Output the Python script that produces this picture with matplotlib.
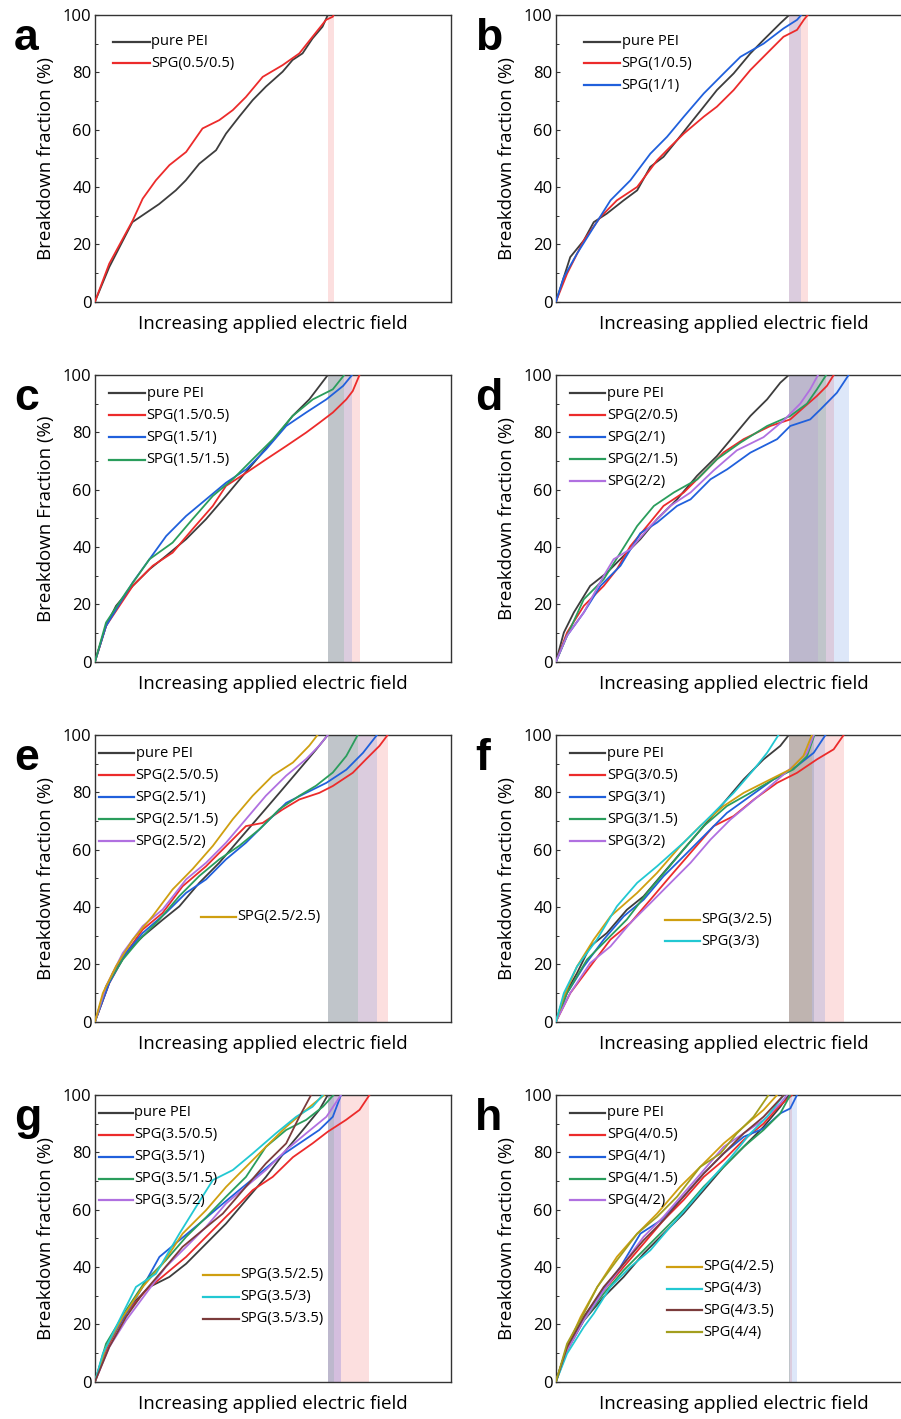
import matplotlib
matplotlib.use("Agg")
import matplotlib.pyplot as plt
from matplotlib.ticker import MultipleLocator

plt.rcParams['font.family'] = ['Open Sans', 'DejaVu Sans']

# ---------------------------------------------------------------- colours
C_PEI = '#3d3d3d'
C_RED = '#ec2b2b'
C_BLUE = '#2060dc'
C_GREEN = '#2a9d5c'
C_PURPLE = '#b070e0'
C_GOLD = '#cf9f10'
C_CYAN = '#22c8d2'
C_BROWN = '#7b3b3b'
C_OLIVE = '#a39e1e'

# ---------------------------------------------------------------- panel a
a_pei_x = [0, 4.0, 10.5, 18.0, 22.7, 25.5, 29.3, 34.0, 36.8, 40.5, 44.3, 48.0, 52.7, 55.5, 58.3, 61.1, 63.9, 65.4]
a_pei_y = [0, 12.0, 27.7, 34.0, 38.8, 42.3, 48.1, 52.8, 58.6, 64.5, 70.3, 75.0, 80.2, 84.3, 86.6, 91.8, 95.9, 100]
a_s05_x = [0, 4.0, 10.6, 13.4, 17.1, 20.9, 25.6, 30.2, 34.9, 38.7, 42.4, 47.1, 52.7, 57.4, 61.1, 64.9, 66.8, 67.0]
a_s05_y = [0, 13.2, 28.3, 35.9, 42.3, 47.6, 52.2, 60.4, 63.3, 66.8, 71.4, 78.4, 82.5, 86.6, 92.4, 98.3, 99.4, 100]

# ---------------------------------------------------------------- panel b
b_pei_x = [0, 2.2, 4.0, 7.8, 10.6, 14.3, 19.0, 22.8, 26.5, 30.2, 34.0, 37.7, 41.5, 45.2, 49.9, 54.6, 58.3, 63.0, 65.5]
b_pei_y = [0, 8.5, 15.5, 21.3, 27.7, 30.7, 35.3, 38.8, 47.0, 50.5, 56.3, 62.1, 68.0, 73.8, 79.6, 86.6, 91.3, 97.1, 100]
b_s05_x = [0, 3.1, 7.8, 12.5, 17.1, 22.8, 28.4, 32.1, 35.9, 41.5, 45.2, 49.9, 54.6, 60.2, 63.9, 67.7, 69.6, 70.7]
b_s05_y = [0, 9.7, 21.3, 29.5, 35.3, 40.0, 49.3, 54.0, 58.6, 64.5, 68.0, 73.8, 80.8, 87.8, 92.4, 94.8, 98.3, 100]
b_s1_x = [0, 2.2, 5.9, 10.6, 15.3, 20.9, 26.5, 31.2, 35.9, 41.5, 47.1, 51.8, 58.3, 63.9, 67.7, 68.9]
b_s1_y = [0, 8.5, 16.7, 26.0, 35.3, 42.3, 51.6, 57.5, 64.5, 72.6, 79.6, 85.4, 90.0, 95.3, 98.3, 100]

# ---------------------------------------------------------------- panel c
c_pei_x = [0, 3.1, 5.9, 10.6, 15.3, 20.0, 25.6, 31.2, 36.8, 41.5, 46.2, 51.8, 55.5, 60.2, 65.4]
c_pei_y = [0, 12.4, 19.4, 26.4, 32.2, 36.9, 42.7, 49.7, 57.8, 64.8, 71.7, 79.9, 85.7, 91.5, 100]
c_s05_x = [0, 3.1, 10.6, 16.2, 21.8, 27.4, 33.1, 36.8, 42.5, 48.1, 53.7, 59.3, 63.1, 66.8, 70.6, 72.4, 74.3]
c_s05_y = [0, 12.4, 26.4, 33.4, 38.0, 46.2, 54.3, 61.3, 65.9, 70.6, 75.2, 79.9, 83.4, 86.9, 91.5, 94.4, 100]
c_s1_x = [0, 3.1, 10.6, 15.3, 20.0, 25.6, 31.2, 36.8, 42.5, 48.1, 53.7, 59.3, 65.0, 69.7, 72.2]
c_s1_y = [0, 12.4, 27.6, 35.7, 43.8, 50.8, 56.6, 62.4, 67.1, 74.1, 82.2, 86.9, 91.5, 96.2, 100]
c_s15_x = [0, 3.1, 8.7, 15.3, 21.8, 27.4, 33.1, 38.7, 44.3, 50.0, 55.5, 61.2, 66.8, 70.0]
c_s15_y = [0, 13.6, 24.1, 35.7, 41.5, 49.7, 57.8, 63.6, 70.6, 77.6, 85.7, 91.5, 95.0, 100]

# ---------------------------------------------------------------- panel d
d_pei_x = [0, 2.2, 5.0, 9.6, 14.3, 19.9, 23.7, 28.4, 34.0, 39.6, 45.2, 49.9, 54.6, 59.3, 63.0, 65.4]
d_pei_y = [0, 10.1, 17.1, 26.4, 31.0, 38.0, 42.7, 49.7, 56.6, 64.8, 71.7, 78.7, 85.7, 91.5, 97.3, 100]
d_s05_x = [0, 3.1, 7.8, 13.4, 17.1, 20.9, 25.6, 30.2, 35.9, 41.5, 47.1, 52.7, 60.2, 65.8, 69.6, 73.3, 76.1, 78.0]
d_s05_y = [0, 10.1, 19.4, 26.4, 32.2, 40.3, 47.3, 54.3, 59.0, 65.9, 73.0, 77.6, 82.2, 84.5, 88.7, 92.7, 96.2, 100]
d_s1_x = [0, 3.1, 7.8, 12.5, 18.1, 23.7, 28.4, 34.0, 37.8, 43.4, 48.1, 54.6, 62.1, 65.8, 71.4, 74.3, 78.9, 82.2]
d_s1_y = [0, 9.0, 17.1, 26.4, 33.4, 44.8, 48.5, 54.3, 56.6, 63.6, 67.1, 72.9, 77.6, 82.2, 84.5, 88.0, 93.8, 100]
d_s15_x = [0, 3.1, 7.8, 13.4, 18.1, 22.8, 27.5, 33.1, 39.7, 45.2, 51.8, 59.3, 65.8, 70.5, 73.3, 75.9]
d_s15_y = [0, 9.0, 21.7, 28.7, 38.0, 47.3, 54.3, 59.0, 63.6, 70.6, 76.4, 82.2, 85.7, 90.0, 95.0, 100]
d_s2_x = [0, 3.1, 7.8, 13.4, 16.2, 20.9, 26.5, 32.1, 37.8, 44.3, 50.8, 58.3, 63.9, 68.6, 71.4, 73.6]
d_s2_y = [0, 9.0, 17.1, 29.9, 35.7, 39.2, 47.3, 54.3, 59.0, 66.7, 73.7, 78.3, 84.1, 90.0, 95.0, 100]

# ---------------------------------------------------------------- panel e
e_pei_x = [0, 2.2, 5.0, 8.7, 13.4, 19.0, 23.7, 29.3, 34.9, 40.5, 46.2, 51.8, 57.4, 62.1, 65.4]
e_pei_y = [0, 7.5, 16.9, 23.8, 29.7, 35.5, 40.2, 48.4, 55.4, 63.5, 71.7, 79.8, 88.0, 94.9, 100]
e_s05_x = [0, 4.0, 8.7, 13.4, 19.0, 24.6, 31.2, 36.8, 42.4, 47.1, 52.7, 57.4, 63.0, 66.8, 72.4, 76.1, 79.9, 82.2]
e_s05_y = [0, 13.4, 23.9, 32.1, 37.9, 47.2, 54.2, 61.2, 68.2, 69.3, 74.0, 77.5, 79.8, 82.2, 86.8, 91.5, 96.2, 100]
e_s1_x = [0, 4.0, 8.7, 13.4, 19.9, 25.6, 31.2, 36.8, 42.4, 48.0, 53.7, 59.3, 65.0, 70.6, 75.3, 79.2]
e_s1_y = [0, 13.4, 23.9, 30.9, 37.9, 44.9, 49.6, 56.6, 62.4, 69.3, 76.3, 79.8, 83.3, 87.9, 93.8, 100]
e_s15_x = [0, 3.1, 7.8, 12.5, 18.1, 23.7, 29.3, 34.9, 40.5, 46.2, 51.8, 57.4, 62.1, 66.8, 70.6, 73.8]
e_s15_y = [0, 12.3, 21.6, 28.6, 35.6, 43.8, 50.8, 56.6, 61.3, 67.1, 74.1, 78.8, 82.3, 86.9, 92.7, 100]
e_s2_x = [0, 3.1, 7.8, 13.4, 19.0, 25.6, 31.2, 36.8, 42.4, 48.0, 53.7, 59.3, 63.0, 65.4]
e_s2_y = [0, 12.3, 23.9, 33.3, 39.1, 49.6, 55.4, 62.4, 70.6, 78.8, 85.8, 91.6, 96.3, 100]
e_s25_x = [0, 2.2, 5.9, 10.6, 16.2, 21.8, 27.4, 33.1, 38.7, 44.3, 49.9, 55.6, 60.2, 62.5]
e_s25_y = [0, 9.9, 19.3, 28.6, 36.8, 46.1, 53.2, 61.3, 70.6, 78.8, 85.8, 90.4, 96.3, 100]

# ---------------------------------------------------------------- panel f
f_pei_x = [0, 2.2, 5.9, 9.6, 14.3, 19.9, 24.6, 30.2, 35.8, 41.5, 47.1, 52.7, 58.3, 63.0, 65.4]
f_pei_y = [0, 8.7, 16.9, 26.2, 30.9, 39.0, 43.7, 51.9, 60.0, 68.2, 76.3, 84.5, 91.5, 96.2, 100]
f_s05_x = [0, 4.0, 9.6, 15.3, 20.9, 26.5, 32.1, 37.8, 44.3, 49.9, 55.6, 62.1, 67.7, 73.3, 78.0, 80.8]
f_s05_y = [0, 9.9, 19.2, 28.6, 34.4, 42.5, 50.7, 58.9, 68.2, 71.7, 77.5, 83.3, 86.8, 91.5, 95.0, 100]
f_s1_x = [0, 3.1, 7.8, 13.4, 19.0, 24.6, 30.2, 35.8, 41.5, 48.0, 54.6, 61.1, 67.7, 72.4, 75.7]
f_s1_y = [0, 9.9, 19.2, 28.6, 36.7, 42.5, 50.7, 57.6, 64.7, 72.8, 78.7, 84.5, 89.2, 93.8, 100]
f_s15_x = [0, 3.1, 8.7, 14.3, 19.9, 25.6, 31.2, 35.8, 41.5, 48.0, 54.6, 61.1, 66.7, 70.5, 72.6]
f_s15_y = [0, 9.9, 21.6, 28.6, 35.6, 44.9, 53.1, 60.0, 68.2, 75.2, 79.8, 84.5, 88.0, 92.6, 100]
f_s2_x = [0, 4.0, 9.6, 15.3, 20.9, 26.5, 32.1, 37.8, 43.4, 49.0, 54.6, 60.2, 66.7, 70.5, 72.4]
f_s2_y = [0, 9.9, 20.4, 26.2, 34.4, 41.3, 48.3, 55.4, 63.5, 70.5, 76.3, 82.2, 89.2, 93.8, 100]
f_s25_x = [0, 2.2, 5.9, 10.6, 15.3, 22.8, 28.4, 34.9, 40.5, 47.1, 52.7, 60.2, 65.8, 69.5, 71.9]
f_s25_y = [0, 8.7, 19.2, 28.6, 36.7, 44.9, 51.9, 61.2, 68.2, 75.2, 79.8, 84.5, 88.0, 92.7, 100]
f_s3_x = [0, 2.2, 5.9, 11.5, 17.1, 22.8, 28.4, 35.8, 43.4, 49.9, 55.6, 59.3, 62.5]
f_s3_y = [0, 9.9, 19.2, 28.6, 40.2, 48.4, 54.2, 62.4, 71.7, 79.8, 88.0, 93.8, 100]

# ---------------------------------------------------------------- panel g
g_pei_x = [0, 3.1, 6.8, 10.6, 15.3, 20.9, 25.6, 31.2, 36.8, 42.4, 48.0, 53.7, 58.4, 63.0, 65.4]
g_pei_y = [0, 12.0, 20.2, 27.2, 33.0, 36.5, 41.1, 48.1, 55.1, 63.3, 71.4, 80.8, 87.8, 94.8, 100]
g_s05_x = [0, 4.0, 8.7, 14.3, 19.9, 25.6, 31.2, 36.8, 40.6, 44.3, 49.9, 55.6, 61.1, 65.4, 70.5, 74.3, 77.1]
g_s05_y = [0, 13.2, 23.7, 31.8, 37.6, 43.5, 50.5, 57.5, 62.1, 66.8, 71.4, 78.3, 83.1, 87.2, 91.3, 94.8, 100]
g_s1_x = [0, 3.1, 8.7, 13.4, 18.1, 23.7, 29.3, 34.9, 40.5, 46.2, 51.8, 57.4, 63.0, 66.8, 69.1]
g_s1_y = [0, 12.0, 23.7, 33.0, 43.5, 49.3, 55.1, 61.0, 66.8, 72.6, 78.4, 83.1, 87.8, 92.4, 100]
g_s15_x = [0, 3.1, 8.7, 14.3, 19.9, 25.6, 31.2, 36.8, 42.4, 48.0, 53.7, 59.3, 64.0, 67.0]
g_s15_y = [0, 13.2, 24.8, 35.3, 42.3, 50.5, 57.3, 64.5, 71.4, 81.9, 87.8, 91.3, 95.9, 100]
g_s2_x = [0, 4.0, 8.7, 14.3, 19.9, 25.6, 31.2, 36.8, 42.4, 48.0, 53.7, 59.3, 65.0, 69.1]
g_s2_y = [0, 12.0, 21.3, 30.7, 40.0, 47.0, 54.0, 62.1, 68.0, 73.8, 80.8, 86.6, 92.4, 100]
g_s25_x = [0, 3.1, 7.8, 13.4, 19.0, 24.6, 31.2, 36.8, 42.4, 48.0, 53.7, 59.3, 64.4]
g_s25_y = [0, 12.0, 22.5, 33.0, 41.1, 51.6, 59.8, 67.9, 74.9, 81.9, 88.9, 94.8, 100]
g_s3_x = [0, 2.2, 6.8, 11.5, 17.1, 23.7, 28.4, 33.1, 38.7, 44.3, 50.8, 56.5, 61.1, 64.0]
g_s3_y = [0, 9.7, 21.3, 33.0, 37.6, 51.6, 61.0, 70.3, 73.8, 79.6, 86.6, 92.4, 95.9, 100]
g_s35_x = [0, 4.0, 8.7, 13.4, 19.0, 24.6, 30.2, 35.9, 42.4, 48.0, 53.7, 57.4, 60.7]
g_s35_y = [0, 12.0, 22.5, 30.7, 38.8, 47.0, 52.8, 58.6, 68.0, 76.1, 83.1, 92.4, 100]

# ---------------------------------------------------------------- panel h
h_pei_x = [0, 3.1, 7.8, 13.4, 19.0, 24.6, 30.2, 35.8, 41.5, 47.1, 52.7, 58.3, 63.0, 65.4]
h_pei_y = [0, 10.8, 21.3, 29.5, 36.5, 44.6, 51.6, 58.6, 66.8, 74.9, 81.9, 88.9, 95.9, 100]
h_s05_x = [0, 3.1, 7.8, 13.4, 19.0, 24.6, 30.2, 35.8, 41.5, 47.1, 52.7, 58.3, 62.5, 66.3]
h_s05_y = [0, 12.0, 22.5, 31.8, 40.0, 48.1, 56.3, 63.3, 71.4, 77.3, 84.3, 90.0, 95.9, 100]
h_s1_x = [0, 3.1, 7.8, 12.5, 18.1, 23.7, 29.5, 35.8, 41.5, 47.1, 52.7, 58.3, 63.0, 65.8, 67.7]
h_s1_y = [0, 12.0, 22.5, 30.7, 40.0, 51.6, 56.3, 64.5, 72.6, 79.6, 85.4, 88.3, 93.6, 95.3, 100]
h_s15_x = [0, 3.1, 7.8, 13.4, 19.0, 24.6, 30.2, 35.8, 41.5, 47.1, 52.7, 58.3, 63.0, 65.8]
h_s15_y = [0, 12.0, 21.3, 30.7, 38.8, 45.8, 52.8, 59.8, 68.0, 74.9, 81.9, 87.8, 93.6, 100]
h_s2_x = [0, 3.1, 7.8, 13.4, 19.0, 24.6, 30.2, 35.8, 41.5, 47.1, 52.7, 58.3, 63.0, 64.9]
h_s2_y = [0, 10.8, 21.3, 31.8, 41.1, 50.5, 57.5, 65.6, 73.8, 81.9, 86.6, 91.3, 97.1, 100]
h_s25_x = [0, 3.1, 6.9, 11.6, 17.1, 22.8, 28.4, 34.9, 40.5, 47.1, 52.7, 58.3, 62.1]
h_s25_y = [0, 12.0, 22.5, 33.0, 43.5, 51.6, 58.6, 68.0, 74.9, 83.1, 88.9, 94.8, 100]
h_s3_x = [0, 3.1, 7.8, 10.6, 15.3, 20.9, 26.5, 32.1, 37.8, 43.4, 49.0, 54.6, 59.3, 64.0]
h_s3_y = [0, 9.7, 19.0, 23.7, 33.0, 40.0, 45.8, 54.0, 62.1, 70.3, 78.1, 86.6, 92.4, 100]
h_s35_x = [0, 3.1, 7.8, 13.4, 19.0, 24.6, 30.2, 35.8, 41.5, 47.1, 52.7, 58.3, 64.0]
h_s35_y = [0, 12.0, 22.5, 33.0, 41.1, 49.3, 56.3, 64.5, 72.6, 79.6, 86.6, 92.4, 100]
h_s4_x = [0, 3.1, 7.8, 11.6, 17.1, 22.8, 28.4, 34.0, 40.5, 46.2, 50.8, 55.5, 59.7]
h_s4_y = [0, 13.2, 23.7, 33.0, 42.3, 51.6, 57.5, 64.5, 74.9, 79.6, 86.6, 92.4, 100]

# ---------------------------------------------------------------- series per panel
panels = [
    ('a', 'Breakdown fraction (%)', [
        ('pure PEI', C_PEI, a_pei_x, a_pei_y),
        ('SPG(0.5/0.5)', C_RED, a_s05_x, a_s05_y)]),
    ('b', 'Breakdown fraction (%)', [
        ('pure PEI', C_PEI, b_pei_x, b_pei_y),
        ('SPG(1/0.5)', C_RED, b_s05_x, b_s05_y),
        ('SPG(1/1)', C_BLUE, b_s1_x, b_s1_y)]),
    ('c', 'Breakdown Fraction (%)', [
        ('pure PEI', C_PEI, c_pei_x, c_pei_y),
        ('SPG(1.5/0.5)', C_RED, c_s05_x, c_s05_y),
        ('SPG(1.5/1)', C_BLUE, c_s1_x, c_s1_y),
        ('SPG(1.5/1.5)', C_GREEN, c_s15_x, c_s15_y)]),
    ('d', 'Breakdown fraction (%)', [
        ('pure PEI', C_PEI, d_pei_x, d_pei_y),
        ('SPG(2/0.5)', C_RED, d_s05_x, d_s05_y),
        ('SPG(2/1)', C_BLUE, d_s1_x, d_s1_y),
        ('SPG(2/1.5)', C_GREEN, d_s15_x, d_s15_y),
        ('SPG(2/2)', C_PURPLE, d_s2_x, d_s2_y)]),
    ('e', 'Breakdown fraction (%)', [
        ('pure PEI', C_PEI, e_pei_x, e_pei_y),
        ('SPG(2.5/0.5)', C_RED, e_s05_x, e_s05_y),
        ('SPG(2.5/1)', C_BLUE, e_s1_x, e_s1_y),
        ('SPG(2.5/1.5)', C_GREEN, e_s15_x, e_s15_y),
        ('SPG(2.5/2)', C_PURPLE, e_s2_x, e_s2_y),
        ('SPG(2.5/2.5)', C_GOLD, e_s25_x, e_s25_y)]),
    ('f', 'Breakdown fraction (%)', [
        ('pure PEI', C_PEI, f_pei_x, f_pei_y),
        ('SPG(3/0.5)', C_RED, f_s05_x, f_s05_y),
        ('SPG(3/1)', C_BLUE, f_s1_x, f_s1_y),
        ('SPG(3/1.5)', C_GREEN, f_s15_x, f_s15_y),
        ('SPG(3/2)', C_PURPLE, f_s2_x, f_s2_y),
        ('SPG(3/2.5)', C_GOLD, f_s25_x, f_s25_y),
        ('SPG(3/3)', C_CYAN, f_s3_x, f_s3_y)]),
    ('g', 'Breakdown fraction (%)', [
        ('pure PEI', C_PEI, g_pei_x, g_pei_y),
        ('SPG(3.5/0.5)', C_RED, g_s05_x, g_s05_y),
        ('SPG(3.5/1)', C_BLUE, g_s1_x, g_s1_y),
        ('SPG(3.5/1.5)', C_GREEN, g_s15_x, g_s15_y),
        ('SPG(3.5/2)', C_PURPLE, g_s2_x, g_s2_y),
        ('SPG(3.5/2.5)', C_GOLD, g_s25_x, g_s25_y),
        ('SPG(3.5/3)', C_CYAN, g_s3_x, g_s3_y),
        ('SPG(3.5/3.5)', C_BROWN, g_s35_x, g_s35_y)]),
    ('h', 'Breakdown fraction (%)', [
        ('pure PEI', C_PEI, h_pei_x, h_pei_y),
        ('SPG(4/0.5)', C_RED, h_s05_x, h_s05_y),
        ('SPG(4/1)', C_BLUE, h_s1_x, h_s1_y),
        ('SPG(4/1.5)', C_GREEN, h_s15_x, h_s15_y),
        ('SPG(4/2)', C_PURPLE, h_s2_x, h_s2_y),
        ('SPG(4/2.5)', C_GOLD, h_s25_x, h_s25_y),
        ('SPG(4/3)', C_CYAN, h_s3_x, h_s3_y),
        ('SPG(4/3.5)', C_BROWN, h_s35_x, h_s35_y),
        ('SPG(4/4)', C_OLIVE, h_s4_x, h_s4_y)]),
]

# legend key placement (axes fractions): first block, then optional second block
legend_layout = {
    'a': [(0.051, 0.154, 0.093, 0.076, 0, 2)],
    'b': [(0.080, 0.180, 0.093, 0.076, 0, 3)],
    'c': [(0.040, 0.141, 0.064, 0.077, 0, 4)],
    'd': [(0.040, 0.139, 0.064, 0.0765, 0, 5)],
    'e': [(0.012, 0.110, 0.064, 0.0765, 0, 5), (0.298, 0.396, 0.635, 0.076, 5, 6)],
    'f': [(0.040, 0.139, 0.064, 0.0765, 0, 5), (0.307, 0.404, 0.645, 0.075, 5, 7)],
    'g': [(0.010, 0.106, 0.062, 0.0765, 0, 5), (0.304, 0.404, 0.627, 0.077, 5, 8)],
    'h': [(0.040, 0.139, 0.062, 0.0765, 0, 5), (0.312, 0.410, 0.600, 0.076, 5, 9)],
}

# ---------------------------------------------------------------- figure
W, H = 901, 1419
fig = plt.figure(figsize=(W / 100, H / 100), dpi=100)

ax_w, ax_h = 356, 286.5
col_left = [95, 556]
row_top = [15, 375, 735, 1095]

SPINE = '#333333'
LINE_W = 1.3

for idx, (letter, ylabel, series) in enumerate(panels):
    r, c = divmod(idx, 2)
    left, top = col_left[c], row_top[r]
    ax = fig.add_axes([left / W, 1 - (top + ax_h) / H, ax_w / W, ax_h / H])

    # shaded windows between the PEI breakdown end and each composite's end
    pei_end = max(series[0][2])
    for name, col, xs, ys in series[1:]:
        end = max(xs)
        if end > pei_end:
            ax.axvspan(pei_end, end, color=col, alpha=0.15, lw=0, zorder=1)

    for name, col, xs, ys in series:
        ax.plot(xs, ys, color=col, lw=LINE_W, zorder=3)

    ax.set_xlim(0, 100)
    ax.set_ylim(0, 100)
    ax.set_xticks([])
    ax.yaxis.set_major_locator(MultipleLocator(20))
    ax.yaxis.set_minor_locator(MultipleLocator(10))
    ax.tick_params(axis='y', which='major', direction='in', length=3.2, width=0.8,
                   color=SPINE, labelsize=12, pad=2.5)
    ax.tick_params(axis='y', which='minor', direction='in', length=2, width=0.7, color=SPINE)
    for sp in ax.spines.values():
        sp.set_color(SPINE)
        sp.set_linewidth(1.0)

    ax.set_ylabel(ylabel, fontsize=13.5, labelpad=6)
    ax.text(0.5, -0.078, 'Increasing applied electric field', transform=ax.transAxes,
            ha='center', va='center', fontsize=13.5)

    # panel letter
    fig.text((left - 81) / W, 1 - (top + 35) / H, letter, fontsize=32, fontweight='bold',
             family='Liberation Sans', ha='left', va='baseline')

    # legend keys
    for x0, x1, y0, dy, i0, i1 in legend_layout[letter]:
        for k, (name, col, xs, ys) in enumerate(series[i0:i1]):
            yy = 1 - (y0 + k * dy)
            ax.plot([x0, x1], [yy, yy], transform=ax.transAxes, color=col, lw=1.6,
                    clip_on=False, zorder=4)
            ax.text(x1 + 0.004, yy, name, transform=ax.transAxes, fontsize=10.5,
                    ha='left', va='center', zorder=4)

fig.savefig('out.png', dpi=100, facecolor='white')
